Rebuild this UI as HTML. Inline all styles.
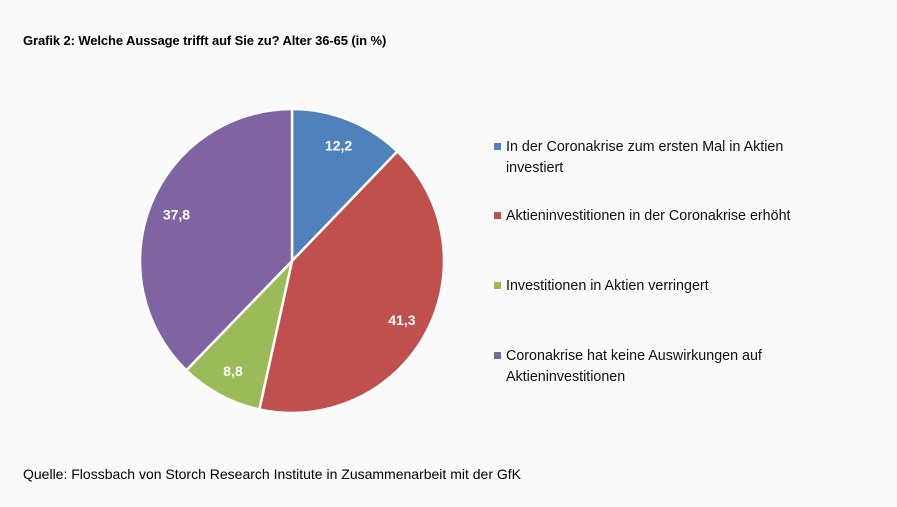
<!DOCTYPE html>
<html><head><meta charset="utf-8"><style>
body{margin:0;width:897px;height:507px;background:#fafafa;font-family:"Liberation Sans",Calibri,sans-serif;overflow:hidden;position:relative}
.title{position:absolute;left:23px;top:33px;font-size:13px;font-weight:bold;color:#000;letter-spacing:-0.1px}
.src{position:absolute;left:23px;top:466px;font-size:14px;color:#000}
.leg{position:absolute;left:494px;font-size:14.3px;color:#111;line-height:21px;width:340px}
.leg span.sw{position:absolute;left:0;top:6px;width:7px;height:7px}
.leg div.t{margin-left:12px}
</style></head><body>
<div class="title">Grafik 2: Welche Aussage trifft auf Sie zu? Alter 36-65 (in %)</div>
<svg id="pie" width="897" height="507" style="position:absolute;left:0;top:0"></svg>
<div class="leg" style="top:137px"><span class="sw" style="background:#4f81bd"></span><div class="t">In der Coronakrise zum ersten Mal in Aktien investiert</div></div>
<div class="leg" style="top:206px"><span class="sw" style="background:#c0504d"></span><div class="t">Aktieninvestitionen in der Coronakrise erhöht</div></div>
<div class="leg" style="top:276px"><span class="sw" style="background:#9bbb59"></span><div class="t">Investitionen in Aktien verringert</div></div>
<div class="leg" style="top:346px"><span class="sw" style="background:#8064a2"></span><div class="t">Coronakrise hat keine Auswirkungen auf<br>Aktieninvestitionen</div></div>
<div class="src">Quelle: Flossbach von Storch Research Institute in Zusammenarbeit mit der GfK</div>
<script>
const categories=["In der Coronakrise zum ersten Mal in Aktien investiert","Aktieninvestitionen in der Coronakrise erhöht","Investitionen in Aktien verringert","Coronakrise hat keine Auswirkungen auf Aktieninvestitionen"];
const values=[12.2,41.3,8.8,37.8];
const labels=["12,2","41,3","8,8","37,8"];
const colors=["#4f81bd","#c0504d","#9bbb59","#8064a2"];
const cx=292,cy=261,r=152;
const svg=document.getElementById('pie');
const NS="http://www.w3.org/2000/svg";
const total=values.reduce((a,b)=>a+b,0);
function pt(a,rr){return [cx+rr*Math.sin(a),cy-rr*Math.cos(a)];}
let acc=0;
values.forEach((v,i)=>{
  const a0=acc/total*2*Math.PI;acc+=v;const a1=acc/total*2*Math.PI;
  const p0=pt(a0,r),p1=pt(a1,r);
  const large=(a1-a0)>Math.PI?1:0;
  const path=document.createElementNS(NS,'path');
  path.setAttribute('d',`M${cx},${cy} L${p0[0]},${p0[1]} A${r},${r} 0 ${large} 1 ${p1[0]},${p1[1]} Z`);
  path.setAttribute('fill',colors[i]);path.setAttribute('stroke','#fff');path.setAttribute('stroke-width','2.5');
  
  
  svg.appendChild(path);
  const m=(a0+a1)/2;const lp=pt(m,r*0.82);
  const t=document.createElementNS(NS,'text');
  t.setAttribute('x',lp[0]);t.setAttribute('y',lp[1]+5);
  t.setAttribute('text-anchor','middle');t.setAttribute('fill','#fff');
  t.setAttribute('font-weight','bold');t.setAttribute('font-size','14');
  t.setAttribute('font-family','Liberation Sans, sans-serif');
  t.textContent=labels[i];
  
  
  svg.appendChild(t);
});
</script>
</body></html>
